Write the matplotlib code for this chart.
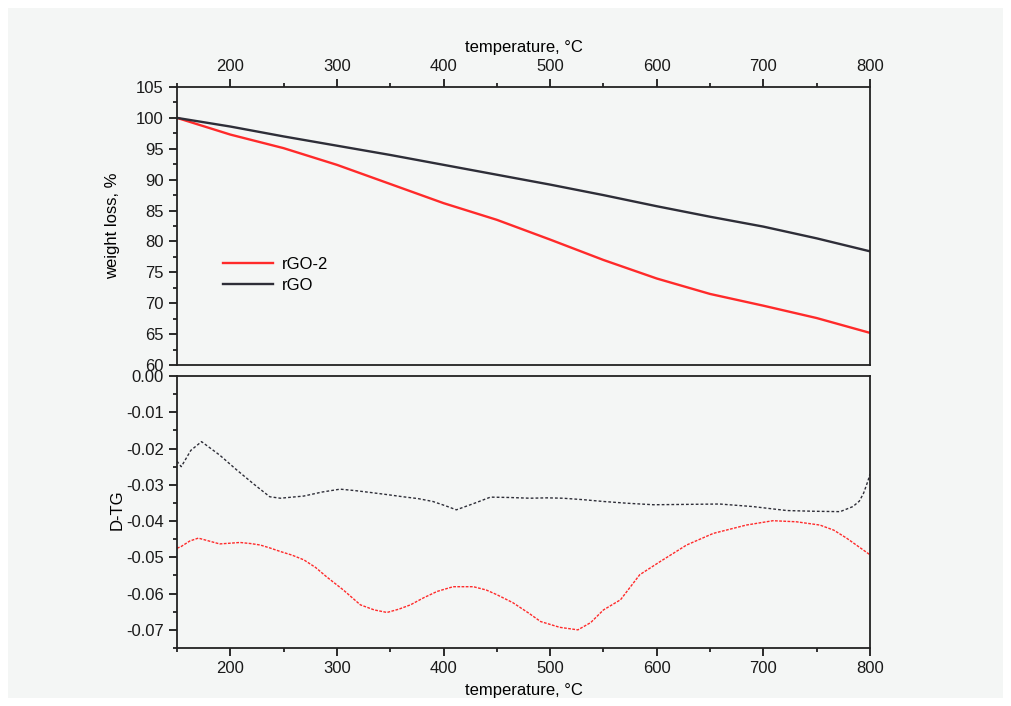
import matplotlib
matplotlib.use("Agg")
import matplotlib.pyplot as plt
from matplotlib.patches import Rectangle
from matplotlib.ticker import MultipleLocator

# --- TGA: weight loss (%) vs temperature (°C) ---
tg_temp = [150, 200, 250, 300, 350, 400, 450, 500, 550, 600, 650, 700, 750, 800]
tg_rgo2 = [100.0, 97.3, 95.1, 92.4, 89.3, 86.2, 83.5, 80.3, 77.0, 74.0, 71.5, 69.6, 67.6, 65.2]
tg_rgo = [100.0, 98.6, 97.0, 95.5, 94.0, 92.4, 90.8, 89.2, 87.5, 85.7, 84.0, 82.4, 80.5, 78.4]

# --- derivative thermogravimetry (D-TG) ---
dtg_rgo_temp = [150, 154, 163, 173, 190, 206, 222, 237, 247, 258, 269, 286, 303,
                317, 331, 347, 362, 376, 390, 402, 412, 428, 444, 462, 481,
                497, 512, 531, 550, 573, 597, 628, 659, 690, 722, 748, 772,
                784, 790, 794, 798, 800]
dtg_rgo = [-0.0235, -0.0250, -0.0205, -0.0181, -0.0218, -0.0259, -0.0298, -0.0333,
           -0.0337, -0.0334, -0.0331, -0.0320, -0.0312, -0.0316, -0.0321, -0.0327,
           -0.0333, -0.0338, -0.0346, -0.0358, -0.0369, -0.0352, -0.0334, -0.0335,
           -0.0337, -0.0336, -0.0337, -0.0341, -0.0346, -0.0351, -0.0355, -0.0354,
           -0.0353, -0.0360, -0.0371, -0.0373, -0.0374, -0.0360, -0.0345, -0.0323,
           -0.0290, -0.0270]

dtg_rgo2_temp = [150, 154, 162, 170, 180, 190, 200, 209, 219, 228, 237, 247, 258,
                 269, 280, 290, 306, 322, 335, 347, 358, 369, 381, 394, 409,
                 428, 440, 450, 465, 480, 491, 509, 526, 538, 550, 566, 584,
                 603, 628, 653, 684, 709, 731, 753, 766, 778, 790, 800]
dtg_rgo2 = [-0.0475, -0.0470, -0.0455, -0.0447, -0.0455, -0.0463, -0.0461, -0.0459,
            -0.0462, -0.0466, -0.0474, -0.0484, -0.0494, -0.0507, -0.0528, -0.0553,
            -0.0590, -0.0631, -0.0645, -0.0652, -0.0643, -0.0631, -0.0612, -0.0594,
            -0.0581, -0.0581, -0.0590, -0.0603, -0.0625, -0.0654, -0.0677, -0.0693,
            -0.0700, -0.0680, -0.0645, -0.0617, -0.0548, -0.0512, -0.0466, -0.0434,
            -0.0411, -0.0399, -0.0402, -0.0411, -0.0425, -0.0447, -0.0472, -0.0493]

x_ticks = [200, 300, 400, 500, 600, 700, 800]

RED = "#ff2a2a"
DARK = "#2e2e38"
FONT = ["Liberation Sans", "DejaVu Sans"]

plt.rcParams["font.family"] = FONT
plt.rcParams["font.size"] = 12

fig = plt.figure(figsize=(10.11, 7.06), dpi=100)
fig.patch.set_facecolor("white")
fig.add_artist(Rectangle((8 / 1011, 8 / 706), 995 / 1011, 690 / 706,
                         transform=fig.transFigure, facecolor="#f4f6f5",
                         edgecolor="none", zorder=-10))

left = 177 / 1011
width = (870 - 177) / 1011
ax1 = fig.add_axes([left, 1 - 365 / 706, width, (365 - 87) / 706])
ax2 = fig.add_axes([left, 1 - 648 / 706, width, (648 - 376) / 706])

for ax in (ax1, ax2):
    ax.set_facecolor("none")
    for s in ax.spines.values():
        s.set_linewidth(1.3)
        s.set_color("#222222")
    ax.set_xlim(150, 800)
    ax.set_xticks(x_ticks)
    ax.xaxis.set_minor_locator(MultipleLocator(50))
    ax.tick_params(which="major", direction="out", length=6, width=1.3,
                   labelsize=12, colors="#1a1a1a")
    ax.tick_params(which="minor", direction="out", length=3, width=1.3,
                   colors="#222222")

# Top panel: TGA curves
ax1.plot(tg_temp, tg_rgo2, color=RED, lw=1.7, label="rGO-2")
ax1.plot(tg_temp, tg_rgo, color=DARK, lw=1.7, label="rGO")
ax1.set_ylim(60, 105)
ax1.yaxis.set_major_locator(MultipleLocator(5))
ax1.yaxis.set_minor_locator(MultipleLocator(2.5))
ax1.xaxis.tick_top()
ax1.xaxis.set_label_position("top")
ax1.tick_params(axis="y", which="both", left=True, right=False)
ax1.tick_params(axis="x", which="both", top=True, bottom=False)
ax1.set_xlabel("temperature, °C", fontsize=12, labelpad=5)
ax1.set_ylabel("weight loss, %", fontsize=12)
ax1.yaxis.set_label_coords(-0.082, 0.5)
ax1.legend(loc="center left", bbox_to_anchor=(0.045, 0.325), frameon=False,
           fontsize=12, handlelength=3.0, handletextpad=0.5,
           labelspacing=0.35)

# Bottom panel: D-TG curves
ax2.plot(dtg_rgo_temp, dtg_rgo, color=DARK, lw=1.0, ls=(0, (2, 1.5)))
ax2.plot(dtg_rgo2_temp, dtg_rgo2, color=RED, lw=1.0, ls=(0, (2, 1.0)))
ax2.set_ylim(-0.075, 0.0)
ax2.set_yticks([0.0, -0.01, -0.02, -0.03, -0.04, -0.05, -0.06, -0.07])
ax2.set_yticklabels(["0.00", "-0.01", "-0.02", "-0.03", "-0.04", "-0.05",
                     "-0.06", "-0.07"])
ax2.yaxis.set_minor_locator(MultipleLocator(0.005))
ax2.tick_params(axis="y", which="both", left=True, right=False)
ax2.tick_params(axis="x", which="both", bottom=True, top=False)
ax2.set_xlabel("temperature, °C", fontsize=12, labelpad=5)
ax2.set_ylabel("D-TG", fontsize=12)
ax2.yaxis.set_label_coords(-0.075, 0.51)

fig.savefig("out.png", dpi=100, facecolor=fig.get_facecolor())
